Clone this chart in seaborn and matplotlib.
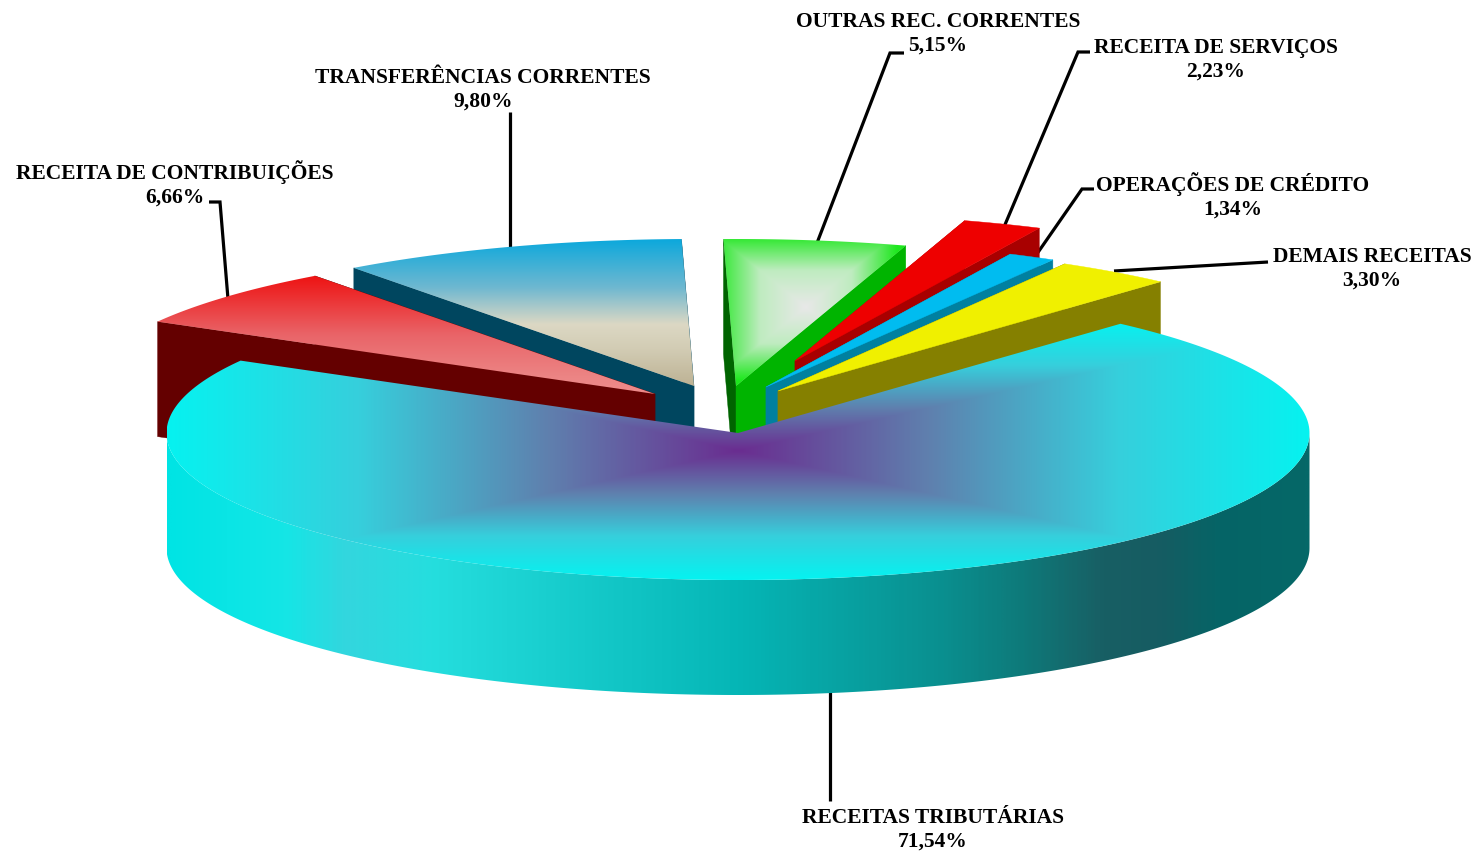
import numpy as np
import seaborn as sns
import matplotlib
matplotlib.use("Agg")
import matplotlib.pyplot as plt
from matplotlib.colors import LinearSegmentedColormap
from matplotlib.patches import Polygon

# ---- data ----
labels = ["RECEITA DE CONTRIBUIÇÕES", "TRANSFERÊNCIAS CORRENTES", "OUTRAS REC. CORRENTES",
          "RECEITA DE SERVIÇOS", "OPERAÇÕES DE CRÉDITO", "DEMAIS RECEITAS", "RECEITAS TRIBUTÁRIAS"]
values = [6.66, 9.80, 5.15, 2.23, 1.34, 3.30, 71.54]

# ---- layout and style ----
W, H = 1477, 854
A, B, DEPTH = 571.5, 147, 115
START = 150.5
apex_x = [655, 694, 736, 795, 766, 778, 738]
apex_y = [395, 387, 387, 362, 388, 392, 434]
draw_order = [1, 0, 2, 3, 4, 5, 6]
wall_near = ["#640000", "#00465f", "#006400", "#a80000", "#0080a0", "#858000", "#000000"]
wall_far = ["#640000", "#00465f", "#00b400", "#a80000", "#0080a0", "#858000", "#000000"]
tops = [None, None, None, "#ee0000", "#00bcf0", "#f0f000", None]
text_x = [175, 483, 938, 1216, 1233, 1372, 933]
text_y = [184, 90, 34, 60, 196, 269, 830]
leaders = [[(209, 203), (220, 203), (228, 300)],
           [(510, 113), (510, 252)],
           [(904, 54), (890, 54), (817, 244)],
           [(1090, 53), (1078, 53), (1004, 228)],
           [(1094, 190), (1082, 190), (1032, 262)],
           [(1268, 263), (1114, 272)],
           [(830, 690), (830, 802)]]

sns.set_theme(style="white")
plt.rcParams["font.family"] = ["Liberation Serif", "DejaVu Serif"]

fig = plt.figure(figsize=(W / 100, H / 100), dpi=100, facecolor="white")
ax = fig.add_axes([0, 0, 1, 1])
ax.set_axis_off()


def ell(cx, cy, deg):
    deg = np.radians(deg)
    return np.column_stack([cx + A * np.cos(deg), cy - B * np.sin(deg)])


def gradient_fill(poly, rgba, extent, z):
    patch = Polygon(poly, closed=True, transform=ax.transData, fc="none", ec="none")
    ax.add_patch(patch)
    im = ax.imshow(rgba, extent=extent, origin="upper", aspect="auto", zorder=z,
                   interpolation="bilinear")
    im.set_clip_path(patch)


def bounds(poly):
    return poly[:, 0].min(), poly[:, 0].max(), poly[:, 1].min(), poly[:, 1].max()


def vertical(poly, stops, z):
    cmap = LinearSegmentedColormap.from_list("v", stops)
    x0, x1, y0, y1 = bounds(poly)
    t = np.linspace(0, 1, 256)[:, None]
    gradient_fill(poly, cmap(t), (x0, x1, y1, y0), z)


def horizontal(poly, stops, z):
    cmap = LinearSegmentedColormap.from_list("h", stops)
    x0, x1, y0, y1 = bounds(poly)
    t = np.linspace(0, 1, 600)[None, :]
    gradient_fill(poly, cmap(t), (x0, x1, y1, y0), z)


def rect_path(poly, colors, z, cx=None, cy=None):
    cmap = sns.blend_palette(colors, as_cmap=True)
    x0, x1, y0, y1 = bounds(poly)
    cx = (x0 + x1) / 2 if cx is None else cx
    cy = (y0 + y1) / 2 if cy is None else cy
    X, Y = np.meshgrid(np.linspace(x0, x1, 700), np.linspace(y0, y1, 400))
    t = np.maximum(np.abs(X - cx) / (x1 - x0) * 2, np.abs(Y - cy) / (y1 - y0) * 2)
    gradient_fill(poly, cmap(np.clip(t, 0, 1)), (x0, x1, y1, y0), z)


# angles come from the values, clockwise from the start angle
total = sum(values)
sweeps = [v / total * 360 for v in values]
edges = START - np.concatenate([[0], np.cumsum(sweeps)])

for path in leaders:
    xs, ys = zip(*path)
    ax.plot(xs, ys, color="black", lw=2.3, solid_capstyle="butt", solid_joinstyle="miter", zorder=1)

z = 2
for i in draw_order:
    a0, a1 = edges[i], edges[i + 1]
    cx, cy = apex_x[i], apex_y[i]
    arc = ell(cx, cy, np.linspace(a0, a1, 300))
    apex = np.array([[cx, cy]])
    top = np.vstack([apex, arc])
    if i == 6:
        # the large slice: outer wall across the front, then its top face
        front = ell(cx, cy, np.linspace(0, -180, 400))
        wall = np.vstack([front, (front + [0, DEPTH])[::-1]])
        horizontal(wall, [(0.0, "#00e4e4"), (0.10, "#14e6e6"), (0.155, "#33d6de"),
                          (0.23, "#25dede"), (0.50, "#05b6b6"), (0.68, "#0a8f8f"),
                          (0.75, "#0e7a7a"), (0.82, "#185f64"), (0.87, "#165c62"),
                          (0.92, "#066466"), (1.0, "#056868")], z)
        z += 1
        rect_path(top, ["#6a2d90", "#5f80ae", "#36cfdc", "#06f2f0"], z, cx=738, cy=452)
    else:
        for edge, colour in ((a0, wall_near[i]), (a1, wall_far[i])):
            p = ell(cx, cy, np.array([edge]))
            quad = np.vstack([apex, p, p + [0, DEPTH], apex + [0, DEPTH]])
            ax.add_patch(Polygon(quad, closed=True, fc=colour, ec=colour, lw=0.3, zorder=z))
            z += 1
        if i == 0:
            vertical(top, [(0, "#ee1212"), (0.5, "#e96468"), (0.85, "#ec8484"), (1, "#ee8c8c")], z)
        elif i == 1:
            vertical(top, [(0, "#0ca8dc"), (0.33, "#6fb8d0"), (0.58, "#dcd8c4"),
                           (0.75, "#d2ccb4"), (1, "#bdb294")], z)
        elif i == 2:
            rect_path(top, ["#e8e8e8", "#bfecc0", "#1ee81e"], z, cx=806, cy=308)
        else:
            ax.add_patch(Polygon(top, closed=True, fc=tops[i], ec=tops[i], lw=0.3, zorder=z))
    z += 1

for name, v, x, y in zip(labels, values, text_x, text_y):
    pct = f"{v:.2f}%".replace(".", ",")
    ax.text(x, y, f"{name}\n{pct}", ha="center", va="center", fontsize=15.45,
            fontweight="bold", color="black", linespacing=1.22, zorder=z + 1)

ax.set_xlim(0, W)
ax.set_ylim(H, 0)
fig.savefig("out.png", dpi=100, facecolor="white")
